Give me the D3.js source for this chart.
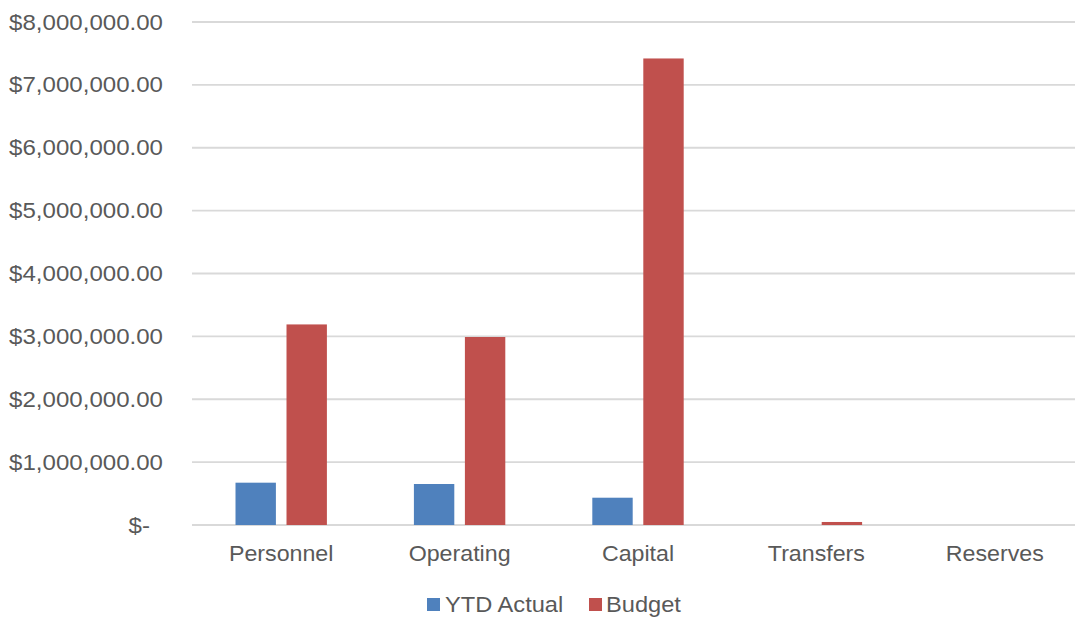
<!DOCTYPE html>
<html>
<head>
<meta charset="utf-8">
<script src="https://cdn.jsdelivr.net/npm/d3@7/dist/d3.min.js"></script>
<style>
  html, body { margin: 0; padding: 0; background: #fff; }
  svg { display: block; }
  text { font-family: Arial, "Liberation Sans", sans-serif; fill: #595959; }
</style>
</head>
<body>
<svg id="chart" width="1075" height="619"></svg>
<script>
// Expense categories and the two series plotted for each
const categories = ["Personnel", "Operating", "Capital", "Transfers", "Reserves"];
const seriesNames = ["YTD Actual", "Budget"];
const ytdActual = [673000, 652000, 434000, 0, 0];
const budget = [3190000, 2990000, 7420000, 48000, 0];
const yTicks = [0, 1000000, 2000000, 3000000, 4000000, 5000000, 6000000, 7000000, 8000000];
const colors = ["#4F81BD", "#C0504D"];

const svg = d3.select("#chart");
const plotLeft = 192, plotRight = 1084, plotTop = 22, plotBottom = 525;

const x0 = d3.scaleBand().domain(categories).range([plotLeft, plotRight]).paddingInner(0).paddingOuter(0);
const x1 = d3.scaleBand().domain(seriesNames).range([0, x0.bandwidth()]).paddingInner(0.208).paddingOuter(0.853);
const y = d3.scaleLinear().domain([0, 8000000]).range([plotBottom, plotTop]);

const fmt = v => v === 0 ? "$-" : "$" + d3.format(",.2f")(v);
const stretch = (cx, k) => `translate(${cx},0) scale(${k},1) translate(${-cx},0)`;

// Horizontal gridlines
svg.append("g").selectAll("line").data(yTicks).join("line")
  .attr("x1", plotLeft).attr("x2", plotRight)
  .attr("y1", d => y(d)).attr("y2", d => y(d))
  .attr("stroke", "#D9D9D9").attr("stroke-width", 1.8);

// Value axis labels
svg.append("g").selectAll("text").data(yTicks).join("text")
  .attr("x", d => d === 0 ? 150 : 163)
  .attr("y", d => y(d))
  .attr("dy", "0.35em")
  .attr("text-anchor", "end")
  .attr("font-size", 21.5)
  .attr("transform", d => stretch(d === 0 ? 150 : 163, 1.12))
  .text(fmt);

// Bars
const rows = categories.map((c, i) => ({ c, vals: [ytdActual[i], budget[i]] }));
const groups = svg.append("g").selectAll("g").data(rows).join("g")
  .attr("transform", d => `translate(${x0(d.c)},0)`);
groups.selectAll("rect").data(d => d.vals.map((v, j) => ({ v, s: seriesNames[j], j }))).join("rect")
  .attr("x", d => x1(d.s))
  .attr("width", x1.bandwidth())
  .attr("y", d => y(d.v))
  .attr("height", d => plotBottom - y(d.v))
  .attr("fill", d => colors[d.j]);

// Category labels
svg.append("g").selectAll("text").data(categories).join("text")
  .attr("x", d => x0(d) + x0.bandwidth() / 2)
  .attr("y", 561)
  .attr("text-anchor", "middle")
  .attr("font-size", 21.5)
  .attr("transform", d => stretch(x0(d) + x0.bandwidth() / 2, 1.08))
  .text(d => d);

// Legend
const legendItems = [
  { name: seriesNames[0], color: colors[0], x: 427, tx: 445 },
  { name: seriesNames[1], color: colors[1], x: 589, tx: 606 }
];
const lg = svg.append("g").selectAll("g").data(legendItems).join("g");
lg.append("rect").attr("x", d => d.x).attr("y", 598).attr("width", 13).attr("height", 13).attr("fill", d => d.color);
lg.append("text").attr("x", d => d.tx).attr("y", 612).attr("font-size", 21.5)
  .attr("transform", d => stretch(d.tx, 1.1))
  .text(d => d.name);
</script>
</body>
</html>
